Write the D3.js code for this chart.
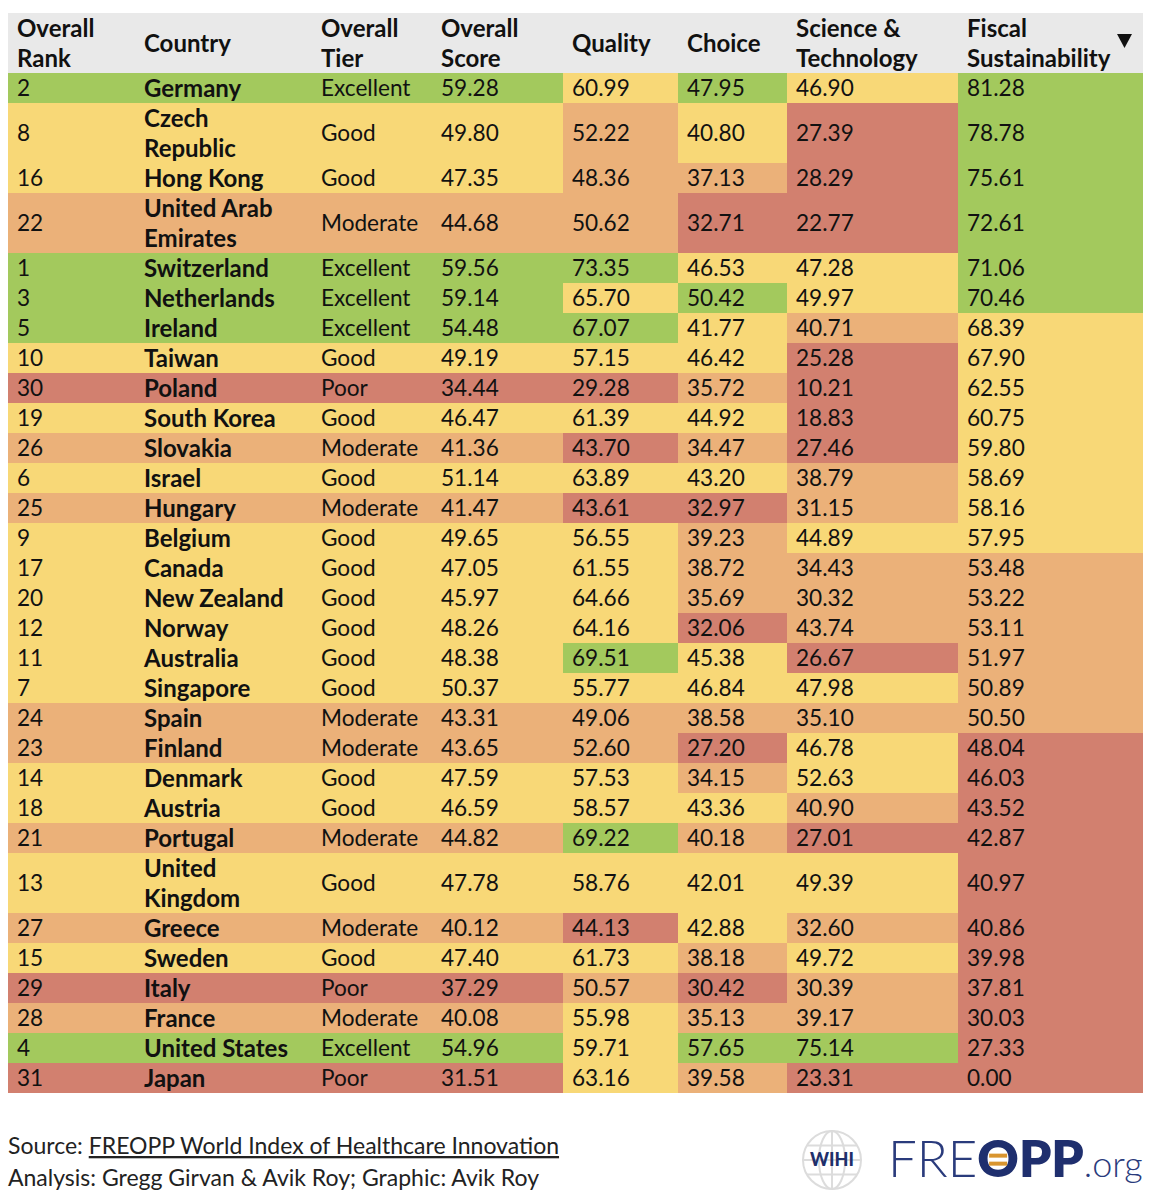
<!DOCTYPE html>
<html>
<head>
<meta charset="utf-8">
<script src="https://cdn.jsdelivr.net/npm/d3@7"></script>
<style>
  body { margin: 0; background: #fff; }
  svg { display: block; }
</style>
</head>
<body>
<svg id="chart" width="1156" height="1200"></svg>
<script>
// ---------------- DATA ----------------
const ranks = [2, 8, 16, 22, 1, 3, 5, 10, 30, 19, 26, 6, 25, 9, 17, 20, 12, 11, 7, 24, 23, 14, 18, 21, 13, 27, 15, 29, 28, 4, 31];
const countries = ["Germany", "Czech Republic", "Hong Kong", "United Arab Emirates", "Switzerland", "Netherlands", "Ireland", "Taiwan", "Poland", "South Korea", "Slovakia", "Israel", "Hungary", "Belgium", "Canada", "New Zealand", "Norway", "Australia", "Singapore", "Spain", "Finland", "Denmark", "Austria", "Portugal", "United Kingdom", "Greece", "Sweden", "Italy", "France", "United States", "Japan"];
const tiers = ["Excellent", "Good", "Good", "Moderate", "Excellent", "Excellent", "Excellent", "Good", "Poor", "Good", "Moderate", "Good", "Moderate", "Good", "Good", "Good", "Good", "Good", "Good", "Moderate", "Moderate", "Good", "Good", "Moderate", "Good", "Moderate", "Good", "Poor", "Moderate", "Excellent", "Poor"];
const overallScore = [59.28, 49.80, 47.35, 44.68, 59.56, 59.14, 54.48, 49.19, 34.44, 46.47, 41.36, 51.14, 41.47, 49.65, 47.05, 45.97, 48.26, 48.38, 50.37, 43.31, 43.65, 47.59, 46.59, 44.82, 47.78, 40.12, 47.40, 37.29, 40.08, 54.96, 31.51];
const quality = [60.99, 52.22, 48.36, 50.62, 73.35, 65.70, 67.07, 57.15, 29.28, 61.39, 43.70, 63.89, 43.61, 56.55, 61.55, 64.66, 64.16, 69.51, 55.77, 49.06, 52.60, 57.53, 58.57, 69.22, 58.76, 44.13, 61.73, 50.57, 55.98, 59.71, 63.16];
const choice = [47.95, 40.80, 37.13, 32.71, 46.53, 50.42, 41.77, 46.42, 35.72, 44.92, 34.47, 43.20, 32.97, 39.23, 38.72, 35.69, 32.06, 45.38, 46.84, 38.58, 27.20, 34.15, 43.36, 40.18, 42.01, 42.88, 38.18, 30.42, 35.13, 57.65, 39.58];
const sciTech = [46.90, 27.39, 28.29, 22.77, 47.28, 49.97, 40.71, 25.28, 10.21, 18.83, 27.46, 38.79, 31.15, 44.89, 34.43, 30.32, 43.74, 26.67, 47.98, 35.10, 46.78, 52.63, 40.90, 27.01, 49.39, 32.60, 49.72, 30.39, 39.17, 75.14, 23.31];
const fiscal = [81.28, 78.78, 75.61, 72.61, 71.06, 70.46, 68.39, 67.90, 62.55, 60.75, 59.80, 58.69, 58.16, 57.95, 53.48, 53.22, 53.11, 51.97, 50.89, 50.50, 48.04, 46.03, 43.52, 42.87, 40.97, 40.86, 39.98, 37.81, 30.03, 27.33, 0.00];

const headerLabels = [
  ["Overall", "Rank"], ["Country"], ["Overall", "Tier"], ["Overall", "Score"],
  ["Quality"], ["Choice"], ["Science &", "Technology"], ["Fiscal", "Sustainability"]
];
const tierNames = ["Poor", "Moderate", "Good", "Excellent"];
const wrappedCountries = { "Czech Republic": ["Czech", "Republic"], "United Arab Emirates": ["United Arab", "Emirates"], "United Kingdom": ["United", "Kingdom"] };

// thresholds of the colour bands, per metric column
const qualityCuts = [45, 55, 66.5];
const choiceCuts = [33, 40.5, 47.5];
const sciCuts = [30, 44.5, 60];
const fiscalCuts = [50, 55, 70];

const sourceText = "FREOPP World Index of Healthcare Innovation";
const analysisText = "Analysis: Gregg Girvan & Avik Roy; Graphic: Avik Roy";

// ---------------- STYLE ----------------
const COLORS = ["#d2806f", "#ebb179", "#f8d877", "#a3c95d"]; // red, orange, yellow, green
const FONT = "Lato, 'Noto Sans', sans-serif";
const FS = 22.6;     // regular body text
const FSB = 24;      // bold text
const LINE = 30;

const svg = d3.select("#chart");
const tblLeft = 8, tblRight = 1143, tblTop = 13, headerH = 60;

// column layout
const colKeys = ["rank", "country", "tier", "score", "quality", "choice", "sci", "fiscal"];
const colEdges = [8, 135, 312, 432, 563, 678, 787, 958, 1143];
const xCol = d3.scaleOrdinal().domain(colKeys).range(colEdges.slice(0, 8));
const wCol = d3.scaleOrdinal().domain(colKeys).range(colEdges.slice(1).map((e, i) => e - colEdges[i]));
const pad = 9;

const tierColor = d3.scaleOrdinal().domain(tierNames).range(COLORS);
const qColor = d3.scaleThreshold().domain(qualityCuts).range(COLORS);
const cColor = d3.scaleThreshold().domain(choiceCuts).range(COLORS);
const sColor = d3.scaleThreshold().domain(sciCuts).range(COLORS);
const fColor = d3.scaleThreshold().domain(fiscalCuts).range(COLORS);

const rows = countries.map((c, i) => ({
  rank: ranks[i], country: c, lines: wrappedCountries[c] || [c], tier: tiers[i],
  score: overallScore[i], quality: quality[i], choice: choice[i], sci: sciTech[i], fiscal: fiscal[i]
}));
const heights = rows.map(r => r.lines.length * LINE);
const cum = [0, ...d3.cumsum(heights)];
const yPos = d3.scaleLinear().domain([0, 1]).range([tblTop + headerH, tblTop + headerH + 1]);
rows.forEach((r, i) => { r.y0 = yPos(cum[i]); r.h = heights[i]; });

// ---------------- HEADER ----------------
svg.append("rect").attr("x", tblLeft).attr("y", tblTop).attr("width", tblRight - tblLeft).attr("height", headerH).attr("fill", "#e9e9e9");
const hdr = svg.append("g").attr("font-family", FONT).attr("font-weight", 700).attr("font-size", FSB).attr("fill", "#111");
headerLabels.forEach((lbls, j) => {
  const k = colKeys[j];
  if (lbls.length === 1) {
    hdr.append("text").attr("x", xCol(k) + pad).attr("y", tblTop + headerH / 2).attr("dy", "0.36em").text(lbls[0]);
  } else {
    lbls.forEach((l, li) => {
      hdr.append("text").attr("x", xCol(k) + pad).attr("y", tblTop + 15 + li * LINE).attr("dy", "0.36em").text(l);
    });
  }
});
// sort indicator
hdr.append("path").attr("d", "M1117,34 L1132,34 L1124.5,48 Z").attr("fill", "#111");

// ---------------- BODY ----------------
const body = svg.append("g").attr("font-family", FONT).attr("font-size", FS).attr("fill", "#111");
const rowG = body.selectAll("g.row").data(rows).join("g").attr("class", "row")
  .attr("transform", d => `translate(0,${d.y0})`);

// row band (first four columns coloured by tier)
rowG.append("rect").attr("x", xCol("rank")).attr("y", 0)
  .attr("width", xCol("quality") - xCol("rank")).attr("height", d => d.h)
  .attr("fill", d => tierColor(d.tier));

const metricCols = [["quality", qColor], ["choice", cColor], ["sci", sColor], ["fiscal", fColor]];
metricCols.forEach(([k, sc]) => {
  rowG.append("rect").attr("x", xCol(k)).attr("y", 0).attr("width", wCol(k)).attr("height", d => d.h)
    .attr("fill", d => sc(d[k]));
});

// texts
rowG.append("text").attr("x", xCol("rank") + pad).attr("y", d => d.h / 2).attr("dy", "0.36em").text(d => d.rank);
rowG.each(function(d) {
  const g = d3.select(this);
  d.lines.forEach((l, li) => {
    g.append("text").attr("x", xCol("country") + pad).attr("y", LINE / 2 + li * LINE).attr("dy", "0.36em")
      .attr("font-weight", 700).attr("font-size", FSB).text(l);
  });
});
rowG.append("text").attr("x", xCol("tier") + pad).attr("y", d => d.h / 2).attr("dy", "0.36em").text(d => d.tier);
["score", "quality", "choice", "sci", "fiscal"].forEach(k => {
  rowG.append("text").attr("x", xCol(k) + pad).attr("y", d => d.h / 2).attr("dy", "0.36em").text(d => d[k].toFixed(2));
});

// ---------------- FOOTER ----------------
const foot = svg.append("g").attr("font-family", FONT).attr("font-size", 23).attr("fill", "#222");
const src = foot.append("text").attr("x", tblLeft).attr("y", 1154);
src.append("tspan").text("Source: ");
src.append("tspan").attr("text-decoration", "underline").text(sourceText);
foot.append("text").attr("x", tblLeft).attr("y", 1186).text(analysisText);

// logo: WIHI globe
const logo = svg.append("g");
const gcx = 832, gcy = 1160, gr = 29;
const globe = logo.append("g").attr("fill", "none").attr("stroke", "#dcdcdc").attr("stroke-width", 2);
globe.append("circle").attr("cx", gcx).attr("cy", gcy).attr("r", gr);
globe.append("ellipse").attr("cx", gcx).attr("cy", gcy).attr("rx", gr * 0.45).attr("ry", gr);
globe.append("line").attr("x1", gcx).attr("x2", gcx).attr("y1", gcy - gr).attr("y2", gcy + gr);
[-0.5, 0, 0.5].forEach(f => {
  const yy = gcy + f * gr;
  const half = Math.sqrt(gr * gr - (f * gr) * (f * gr));
  globe.append("line").attr("x1", gcx - half).attr("x2", gcx + half).attr("y1", yy).attr("y2", yy);
});
logo.append("text").attr("x", gcx).attr("y", gcy).attr("dy", "0.36em").attr("text-anchor", "middle")
  .attr("font-family", FONT).attr("font-weight", 900).attr("font-size", 18).attr("fill", "#1e2f6b").text("WIHI");

// FREOPP.org wordmark, pieces placed one after another by measured width
const baseY = 1177;
let cx = 888;
function piece(txt, weight, size, fill) {
  const t = logo.append("text").attr("x", cx).attr("y", baseY).attr("font-family", FONT)
    .attr("font-weight", weight).attr("font-size", size).attr("fill", fill).text(txt);
  const w = t.node().getComputedTextLength();
  const x0 = cx;
  cx += w;
  return { x0, w };
}
piece("FRE", 300, 51, "#2a3b7c");
const oPiece = piece("O", 800, 51, "#1f2f6e");
piece("PP", 800, 51, "#1f2f6e");
piece(".org", 300, 36, "#2a3b7c");
// orange bars inside the O
const oc = oPiece.x0 + oPiece.w / 2, oy = baseY - 51 * 0.36;
[-5, 3].forEach(dy => {
  logo.append("rect").attr("x", oc - 9).attr("y", oy + dy).attr("width", 18).attr("height", 4).attr("fill", "#d9952f");
});
</script>
</body>
</html>
